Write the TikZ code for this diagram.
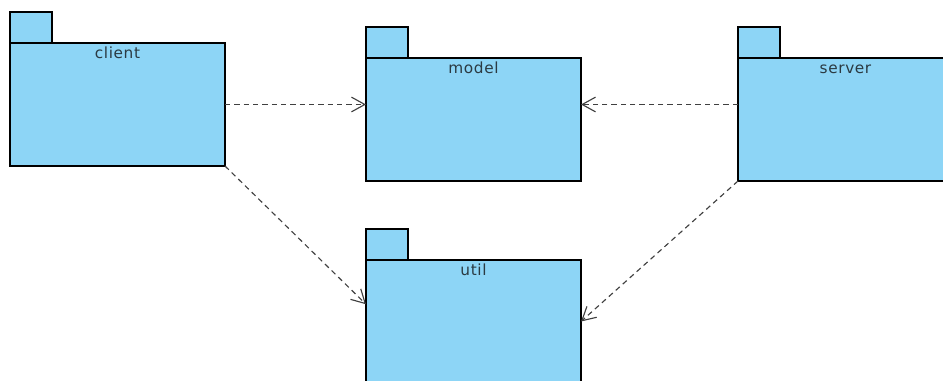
\documentclass[tikz,border=0pt]{standalone}
\usepackage{fontspec}
\setmainfont{DejaVu Sans}
\newfontfamily\pkgfont[LetterSpace=4]{DejaVu Sans}
\usetikzlibrary{arrows.meta,calc}

\definecolor{pkgfill}{HTML}{8DD5F6}
\definecolor{pkgtext}{HTML}{2B3A42}
\definecolor{deparrow}{HTML}{404040}

\begin{document}
\begin{tikzpicture}[x=0.75pt,y=-0.75pt,
  pkgbody/.style={draw=black, fill=pkgfill, line width=0.9pt,
    minimum width=161.25pt, minimum height=92.25pt,
    inner sep=0pt, outer sep=0pt, anchor=north west},
  pkgtab/.style={draw=black, fill=pkgfill, line width=0.9pt,
    minimum width=31.5pt, minimum height=23.25pt,
    inner sep=0pt, outer sep=0pt, anchor=south west},
  pkgname/.style={text=pkgtext, inner sep=0pt, anchor=base,
    font=\pkgfont\fontsize{11.5pt}{13pt}\selectfont, yshift=-12pt},
  dep/.style={draw=deparrow, line width=0.85pt,
    dash pattern=on 4pt off 3pt,
    -{Straight Barb[length=10pt,width=11pt,line width=0.85pt]}}
]
\useasboundingbox (0,0) rectangle (943,381);
\clip (0,0) rectangle (943,381);

% packages: tab on top, body below with its name
\node[pkgbody] (client) at (10,43) {};
\node[pkgtab] (clienttab) at (client.north west) {};
\node[pkgname] (clientname) at (client.north) {client};

\node[pkgbody] (model) at (366,58) {};
\node[pkgtab] (modeltab) at (model.north west) {};
\node[pkgname] (modelname) at (model.north) {model};

\node[pkgbody] (server) at (738,58) {};
\node[pkgtab] (servertab) at (server.north west) {};
\node[pkgname] (servername) at (server.north) {server};

\node[pkgbody] (util) at (366,260) {};
\node[pkgtab] (utiltab) at (util.north west) {};
\node[pkgname] (utilname) at (util.north) {util};

% dependencies
\draw[dep] (client.east) -- (client.east -| model.west);
\draw[dep] (server.west |- client.east) -- (client.east -| model.east);
\draw[dep] (client.south east) -- ($(util.north west)!0.36!(util.south west)$);
\draw[dep] (server.south west) -- (util.east);
\end{tikzpicture}
\end{document}
